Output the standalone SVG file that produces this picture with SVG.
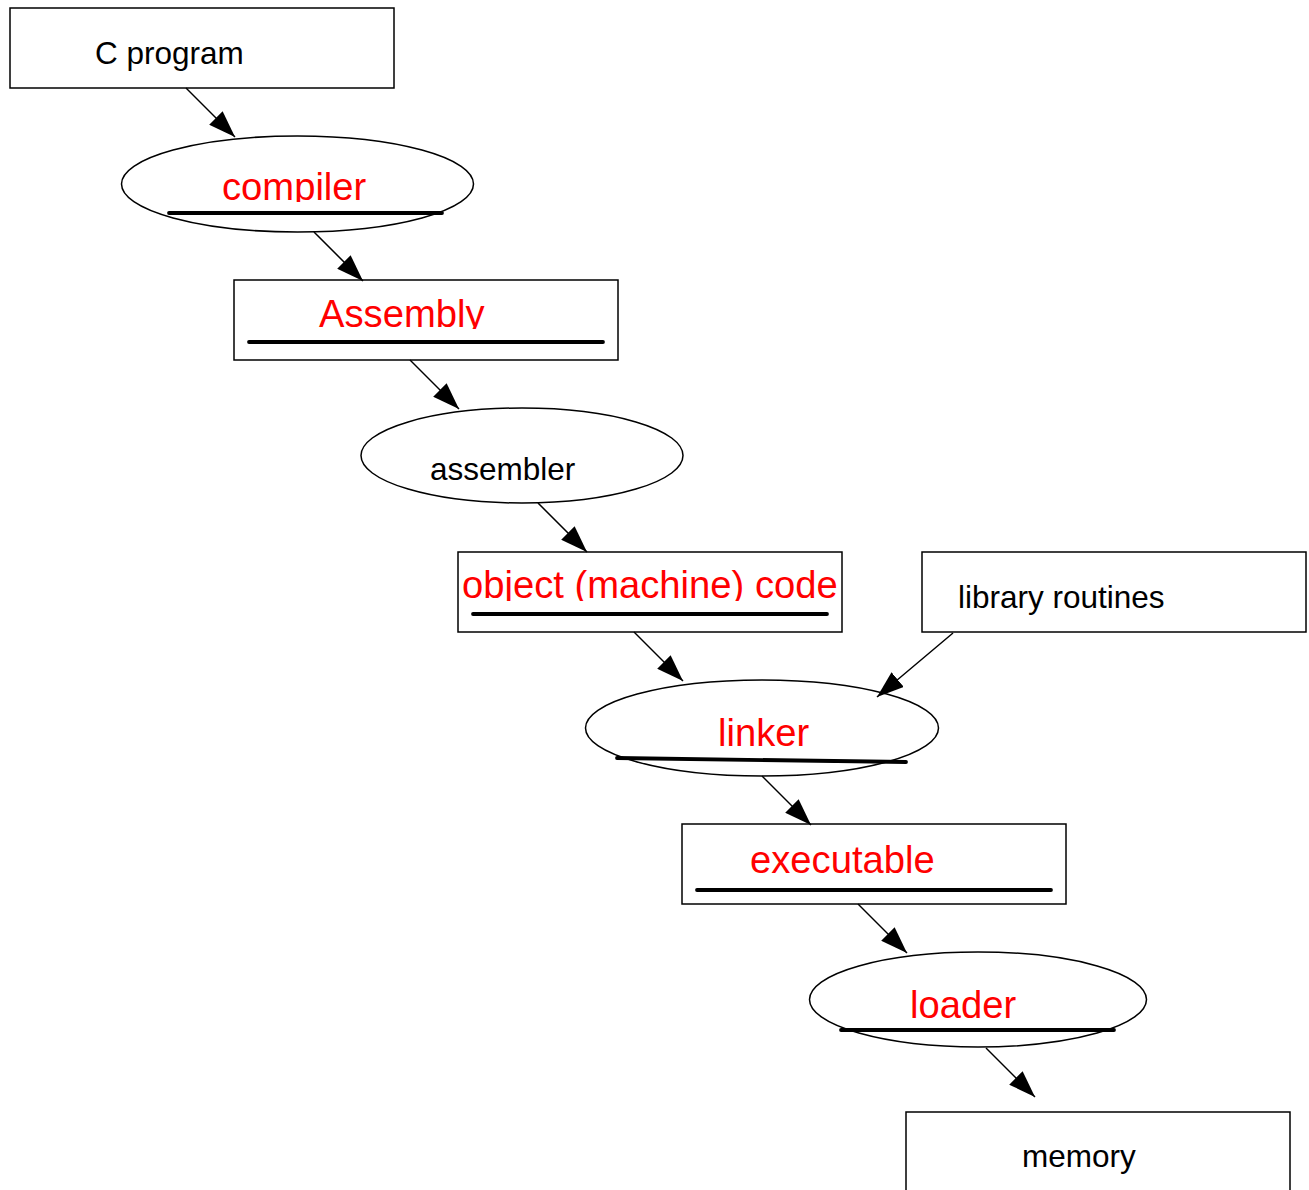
<svg xmlns="http://www.w3.org/2000/svg" width="1309" height="1190" viewBox="0 0 1309 1190">
  <style>
    .box { fill: #ffffff; stroke: #000000; stroke-width: 1.5; }
    .oval { fill: #ffffff; stroke: #000000; stroke-width: 1.5; }
    .lbl { font-family: "Liberation Sans", Arial, sans-serif; font-size: 31.5px; fill: #000000; }
    .key { font-family: "Liberation Sans", Arial, sans-serif; font-size: 38.2px; fill: #ff0000; }
    .ul { stroke: #000000; stroke-width: 3.8; stroke-linecap: round; fill: none; }
    .edge { stroke: #000000; stroke-width: 1.5; fill: none; marker-end: url(#head); }
  </style>
  <defs>
    <marker id="head" viewBox="0 0 27 19" refX="27" refY="9.5" markerWidth="27" markerHeight="19" markerUnits="userSpaceOnUse" orient="auto">
      <path d="M0,0 L27,9.5 L0,19 Z" fill="#000000"/>
    </marker>
    <!-- labels are cut just below their baseline -->
    <clipPath id="cut-compiler" clipPathUnits="userSpaceOnUse"><rect x="0" y="150" width="1309" height="52"/></clipPath>
    <clipPath id="cut-assembly" clipPathUnits="userSpaceOnUse"><rect x="0" y="280" width="1309" height="49"/></clipPath>
    <clipPath id="cut-object" clipPathUnits="userSpaceOnUse"><rect x="0" y="552" width="1309" height="49"/></clipPath>
  </defs>

  <rect width="1309" height="1190" fill="#ffffff"/>

  <g id="c-program">
    <rect class="box" x="10" y="8" width="384" height="80"/>
    <text class="lbl" x="95" y="64">C program</text>
  </g>

  <g id="compiler">
    <ellipse class="oval" cx="297.5" cy="184" rx="176" ry="48"/>
    <text class="key" x="222" y="200" clip-path="url(#cut-compiler)">compiler</text>
    <line class="ul" x1="169" y1="213" x2="442" y2="213"/>
  </g>

  <g id="assembly">
    <rect class="box" x="234" y="280" width="384" height="80"/>
    <text class="key" x="319" y="327" clip-path="url(#cut-assembly)">Assembly</text>
    <line class="ul" x1="249" y1="342" x2="603" y2="342"/>
  </g>

  <g id="assembler">
    <ellipse class="oval" cx="522" cy="455.5" rx="161" ry="47.5"/>
    <text class="lbl" x="430" y="480">assembler</text>
  </g>

  <g id="object-code">
    <rect class="box" x="458" y="552" width="384" height="80"/>
    <text class="key" x="462" y="598" clip-path="url(#cut-object)">object (machine) code</text>
    <line class="ul" x1="473" y1="614" x2="827" y2="614"/>
  </g>

  <g id="library-routines">
    <rect class="box" x="922" y="552" width="384" height="80"/>
    <text class="lbl" x="958" y="608">library routines</text>
  </g>

  <g id="linker">
    <ellipse class="oval" cx="762" cy="728" rx="176.5" ry="48"/>
    <text class="key" x="718" y="746">linker</text>
    <line class="ul" x1="617" y1="758" x2="906" y2="762"/>
  </g>

  <g id="executable">
    <rect class="box" x="682" y="824" width="384" height="80"/>
    <text class="key" x="750" y="873">executable</text>
    <line class="ul" x1="697" y1="890" x2="1051" y2="890"/>
  </g>

  <g id="loader">
    <ellipse class="oval" cx="978" cy="999.5" rx="168.5" ry="47.5"/>
    <text class="key" x="910" y="1018">loader</text>
    <line class="ul" x1="841" y1="1030" x2="1114" y2="1030"/>
  </g>

  <g id="memory">
    <rect class="box" x="906" y="1112" width="384" height="80"/>
    <text class="lbl" x="1022" y="1167">memory</text>
  </g>

  <g id="connectors">
    <line class="edge" x1="186" y1="88" x2="235" y2="137"/>
    <line class="edge" x1="314" y1="232" x2="363" y2="281"/>
    <line class="edge" x1="410" y1="360" x2="459" y2="409"/>
    <line class="edge" x1="538" y1="503" x2="587" y2="552"/>
    <line class="edge" x1="634" y1="632" x2="683" y2="681"/>
    <line class="edge" x1="953" y1="633" x2="877" y2="697"/>
    <line class="edge" x1="762" y1="776" x2="811" y2="825"/>
    <line class="edge" x1="858" y1="904" x2="907" y2="953"/>
    <line class="edge" x1="986" y1="1048" x2="1035" y2="1097"/>
  </g>
</svg>
